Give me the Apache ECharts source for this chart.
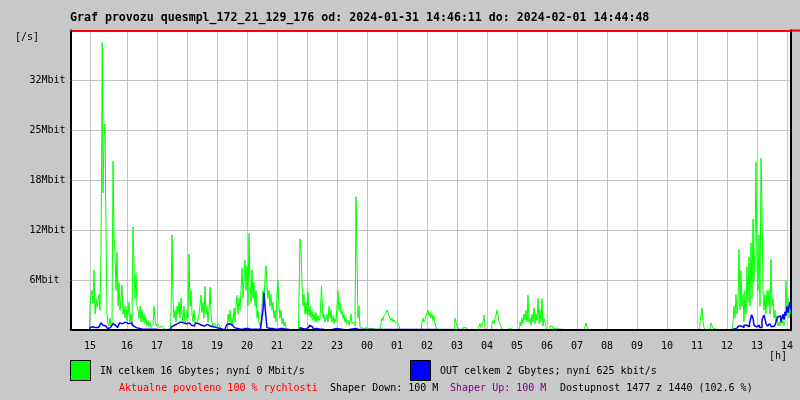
<!DOCTYPE html>
<html><head><meta charset="utf-8">
<script src="https://cdn.jsdelivr.net/npm/echarts@6/dist/echarts.min.js"></script>
<style>html,body{margin:0;padding:0;background:#c8c8c8}#c{width:800px;height:400px}</style>
</head><body><div id="c"></div>
<script>
const titleText = 'Graf provozu quesmpl_172_21_129_176 od: 2024-01-31 14:46:11 do: 2024-02-01 14:44:48';
// x: minutes since 2024-01-31 14:00
const hourTickMinutes = [46,120,180,240,300,360,420,480,540,600,660,720,780,840,900,960,1020,1080,1140,1200,1260,1320,1380,1440];
const hourLabels = ['15','16','17','18','19','20','21','22','23','00','01','02','03','04','05','06','07','08','09','10','11','12','13','14'];
const yStep = 6.3; // Mbit per grid line
const yTickLabels = ['', '6Mbit', '12Mbit', '18Mbit', '25Mbit', '32Mbit', ''];
// [minute, Mbit/s]
const inTraffic = [
[45,0.3],[47,3.0],[49,4.4],[51,5.0],[53,3.4],[55,7.6],[57,2.0],[59,4.0],[61,2.8],[63,3.0],[65,4.5],[67,2.5],[69,10.1],[70,24.3],[71,36.3],[73,17.3],[75,24.3],[77,26.0],[79,12.6],[81,2.0],[83,0.8],[85,0.5],[87,1.5],[89,0.5],[91,0.8],
[93,21.3],[95,12.0],[97,9.8],[99,5.0],[101,9.8],[103,3.0],[105,6.0],[107,2.5],[109,4.0],[111,5.7],[113,2.0],[115,3.0],[117,1.5],[119,3.0],[121,1.2],[123,2.0],[125,3.5],[127,1.0],[129,2.0],[131,0.5],
[133,13.0],[135,8.0],[137,4.0],[139,7.0],[141,3.0],[143,2.5],[145,1.5],[147,3.0],[149,1.0],[151,2.5],[153,1.0],[155,2.0],[157,0.8],[159,1.5],[161,0.5],[163,1.2],[165,0.5],[167,1.0],[169,0.3],[171,0.2],[173,0.6],[175,3.0],[177,1.5],[179,0.5],[183,0.8],[187,0.3],[191,0.5],[195,0.2],[197,0],[207,0],
[209,2.1],[211,12.0],[213,4.0],[215,1.5],[217,2.5],[219,1.0],[221,3.0],[223,2.0],[225,3.5],[227,1.5],[229,4.0],[231,2.0],[233,1.0],[235,3.0],[237,0.8],[239,1.2],[241,2.5],[243,1.5],[245,9.6],[247,3.0],[249,5.0],[251,2.0],[253,1.0],[255,2.5],[257,0.8],[259,0.9],[263,0.7],
[267,2.5],[269,4.4],[271,2.2],[273,3.5],[275,1.5],[277,5.5],[279,2.0],[281,3.0],[283,1.0],[285,2.5],[287,5.4],[289,2.0],[291,1.0],[293,0.5],[297,0.9],[301,0.4],[305,0.8],[309,0.3],[311,0],[321,0],
[323,2.0],[325,1.0],[327,2.5],[329,0.8],[331,1.5],[333,0.7],[335,2.8],[337,1.0],[339,3.0],[341,4.4],[343,2.0],[345,4.0],[347,2.5],[349,5.0],[351,7.8],[353,4.0],[355,6.3],[357,8.8],[359,5.0],[361,8.1],[363,3.0],[365,12.2],[367,6.0],[369,3.5],[371,7.6],[373,4.0],[375,6.0],[377,3.0],[379,5.0],[381,1.5],[383,2.5],[385,0.9],[387,0.5],[389,1.0],
[391,3.0],[393,5.0],[395,3.5],[397,6.5],[399,8.1],[401,5.5],[403,4.0],[405,5.0],[407,3.0],[409,4.5],[411,2.5],[413,3.5],[415,1.5],[417,2.5],[419,1.0],[421,4.5],[423,6.3],[425,3.0],[427,1.5],[429,2.5],[431,0.8],[433,1.5],[435,0.5],[437,1.0],[439,0.3],[441,0.2],[443,0],[463,0],
[465,4.0],[467,11.5],[469,10.0],[471,6.0],[473,3.0],[475,4.5],[477,2.0],[479,3.5],[481,2.0],[483,4.8],[485,1.8],[487,3.0],[489,1.5],[491,2.5],[493,1.2],[495,2.0],[497,1.0],[499,2.2],[501,1.0],[503,1.8],[505,1.2],[507,1.5],
[511,5.5],[513,1.5],[515,2.0],[517,1.0],[519,1.5],[521,2.0],[523,1.0],[525,3.0],[527,1.5],[529,2.5],[531,1.0],[533,1.8],[535,0.8],[537,1.5],[539,1.0],[541,3.0],[543,4.9],[545,2.5],[547,3.5],[549,2.0],[551,2.5],[553,1.5],[555,2.0],[557,1.0],[559,1.5],[561,0.8],[563,1.2],[565,0.6],[567,1.0],[569,2.0],[571,0.8],[573,0.6],[575,1.0],[577,0.5],
[579,16.8],[581,9.0],[583,1.5],[585,3.0],[587,0.3],[589,0.4],[591,0.2],[597,0.3],[601,0],[605,0.2],[607,0],[611,0.2],[613,0],[627,0],
[629,1.0],[631,1.5],[633,1.2],[635,1.8],[637,2.0],[639,2.1],[641,2.5],[643,2.2],[645,1.8],[647,2.0],[649,1.2],[651,1.5],[653,1.0],[655,1.3],[657,1.0],[659,1.2],[661,0.8],[663,1.0],[665,0.5],[667,0],[709,0],
[711,1.0],[713,1.5],[715,1.0],[717,1.3],[719,1.8],[721,2.0],[723,2.5],[725,1.8],[727,2.2],[729,1.5],[731,2.0],[733,1.2],[735,1.8],[737,0.8],[739,0.4],[741,0],[775,0],
[777,1.5],[779,1.0],[781,0.5],[783,0.3],[785,0],[799,0.3],[801,0],[823,0],[825,0.5],[827,0.8],[829,0.3],[831,0.5],[833,1.0],[835,1.9],[837,0.3],[839,0],[849,0],
[851,0.8],[853,1.2],[855,0.8],[857,1.5],[859,1.8],[861,2.5],[863,2.0],[865,1.0],[867,1.2],[869,0.5],[871,0],[885,0.2],[887,0],[905,0],
[907,1.0],[909,0.5],[911,1.5],[913,0.8],[915,2.0],[917,1.2],[919,2.5],[921,1.0],[923,4.4],[925,1.0],[927,1.5],[929,0.6],[931,2.0],[933,1.0],[935,2.8],[937,0.8],[939,2.0],[941,1.2],[943,4.0],[945,0.8],[947,2.5],[949,1.0],[951,4.0],[953,0.5],[955,1.5],[957,1.0],[959,0.3],[963,0],
[969,0.5],[971,0.5],[973,0.2],[975,0],[1035,0],[1037,0.5],[1039,0.9],[1041,0.4],[1043,0],[1265,0],
[1267,1.0],[1269,2.0],[1271,2.8],[1273,1.0],[1275,0.3],[1277,0],[1287,0],[1289,0.9],[1291,0.5],[1293,0.2],[1295,0.3],[1297,0.1],[1301,0],[1331,0],
[1333,1.0],[1335,3.0],[1337,1.5],[1339,4.5],[1341,2.0],[1343,3.5],[1345,10.2],[1347,2.5],[1349,7.5],[1351,3.0],[1353,4.5],[1355,1.0],[1357,5.0],[1359,2.0],[1361,8.0],[1363,3.5],[1365,9.2],[1367,3.0],[1369,11.0],[1371,4.0],[1373,14.0],[1375,6.0],[1377,10.5],[1379,21.2],[1381,8.0],[1383,5.0],[1385,12.0],[1387,3.0],[1389,21.7],[1391,15.0],[1393,5.0],[1395,2.5],[1397,4.5],[1399,2.0],[1401,5.0],[1403,3.0],[1405,5.0],[1407,2.0],[1409,8.9],[1411,3.0],[1413,4.0],[1415,1.5],[1417,2.5],[1419,1.0],[1421,1.8],[1423,0.5],[1425,1.0],[1427,0.5],[1429,1.5],[1431,0.8],[1433,1.2],[1435,0.5],[1437,1.0],
[1439,6.2],[1441,3.0],[1443,4.0],[1445,1.5],[1447,3.0],[1449,2.0],[1451,5.5],[1453,2.5],[1455,5.0],[1457,3.0],[1459,5.0],[1461,4.0],[1463,3.5],[1465,4.5],[1467,3.0]
];
const outTraffic = [
[45,0],[47,0.3],[51,0.4],[55,0.3],[59,0.2],[63,0.3],[67,0.5],[69,0.9],[71,1.0],[73,0.6],[75,0.8],[77,0.5],[79,0.3],[83,0.2],[87,0.3],[91,0.5],[93,0.8],[95,0.6],[99,0.4],[103,0.3],[107,0.9],[111,0.8],[115,1.0],[119,0.9],[123,0.8],[127,0.9],[131,0.7],[135,0.5],[139,0.3],[143,0.2],[147,0.2],[151,0.1],[167,0.1],[187,0],
[207,0.1],[211,0.4],[215,0.6],[219,0.8],[223,0.9],[227,1.0],[231,0.9],[235,1.0],[239,0.8],[243,0.9],[247,0.7],[251,0.6],[255,0.5],[259,0.9],[263,0.8],[267,0.6],[271,0.8],[275,0.5],[279,0.7],[283,0.6],[287,0.5],[291,0.4],[295,0.6],[299,0.3],[303,0.2],[311,0],[319,0],
[321,0.7],[325,0.8],[329,0.6],[333,0.7],[337,0.3],[341,0.2],[347,0.1],[357,0.2],[367,0.1],[377,0.1],[387,0.1],[391,0.3],[393,2.5],[395,4.7],[397,3.0],[399,1.5],[401,0.3],[407,0.2],[417,0.1],[427,0.2],[437,0.1],[447,0],[465,0],
[467,0.3],[471,0.2],[477,0.1],[483,0.3],[487,0.6],[491,0.4],[495,0.1],[499,0.2],[507,0.1],[517,0],[533,0.1],[537,0.2],[541,0],[577,0.2],[579,0.3],[581,0.1],[583,0],[1327,0],
[1333,0.1],[1339,0.2],[1347,0.5],[1351,0.3],[1357,0.6],[1363,0.4],[1367,0.8],[1371,1.9],[1373,1.5],[1375,0.6],[1379,0.4],[1383,0.6],[1387,0.3],[1393,1.3],[1395,1.9],[1397,1.9],[1399,0.8],[1403,0.5],[1407,0.8],[1411,0.4],[1415,0.5],[1419,0.8],[1423,1.6],[1427,1.8],[1429,1.0],[1431,1.5],[1433,2.0],[1435,1.3],[1437,2.3],[1439,1.8],[1441,3.0],[1443,2.2],[1445,3.0],[1447,3.5],[1449,2.5],[1451,3.8],[1453,2.5],[1455,3.2],[1457,2.0],[1459,3.0],[1461,2.3],[1463,3.5],[1465,2.8],[1467,2.5]
];
const legendIn = 'IN celkem 16 Gbytes; nyní 0 Mbit/s';
const legendOut = 'OUT celkem 2 Gbytes; nyní 625 kbit/s';
const statusParts = [
  ['Aktualne povoleno 100 % rychlosti', '#ff0000', 119],
  ['Shaper Down: 100 M', '#000000', 330],
  ['Shaper Up: 100 M', '#800080', 450],
  ['Dostupnost 1477 z 1440 (102.6 %)', '#000000', 560]
];

const MONO = '"DejaVu Sans Mono", "Liberation Mono", monospace';
const chart = echarts.init(document.getElementById('c'), null, {renderer: 'canvas'});
const txt = (text, x, y, color, extra) => Object.assign({
  type: 'text', x: x, y: y, silent: true,
  style: {text: text, fill: color || '#000', font: '10px ' + MONO, verticalAlign: 'middle', align: 'left'}
}, extra || {});

chart.setOption({
  animation: false,
  backgroundColor: '#c8c8c8',
  grid: {left: 70.5, right: 9.5, top: 30.5, bottom: 70, show: true, backgroundColor: '#ffffff', borderWidth: 0},
  xAxis: [{
    type: 'value', position: 'bottom', min: 7, max: 1447, z: 5,
    axisLine: {show: true, onZero: false, lineStyle: {color: '#000', width: 2}},
    axisTick: {show: false},
    splitLine: {show: false},
    axisLabel: {customValues: hourTickMinutes, margin: 11, color: '#000', fontFamily: MONO, fontSize: 10,
      formatter: v => hourLabels[hourTickMinutes.indexOf(v)]}
  }, {
    type: 'value', position: 'top', min: 7, max: 1447, z: 0,
    axisLine: {show: true, onZero: false, lineStyle: {color: '#ff0000', width: 2}},
    axisTick: {show: false, customValues: hourTickMinutes},
    axisLabel: {show: false},
    splitLine: {show: true, lineStyle: {color: '#c4c4c4', width: 1}}
  }],
  yAxis: [{
    type: 'value', position: 'left', min: 0, max: yStep * 6, interval: yStep, z: 5,
    axisLine: {show: true, onZero: false, lineStyle: {color: '#000', width: 2}},
    axisTick: {show: true, length: 5, lineStyle: {color: '#c4c4c4'}},
    splitLine: {show: false},
    axisLabel: {align: 'left', margin: 41, color: '#000', fontFamily: MONO, fontSize: 10,
      formatter: v => yTickLabels[Math.round(v / yStep)] || ''}
  }, {
    type: 'value', position: 'right', min: 0, max: yStep * 6, interval: yStep, z: 0,
    axisLine: {show: true, onZero: false, lineStyle: {color: '#000', width: 2}},
    axisTick: {show: false}, axisLabel: {show: false},
    splitLine: {show: true, lineStyle: {color: '#c4c4c4', width: 1}}
  }],
  series: [{
    name: 'IN', type: 'line', xAxisIndex: 0, yAxisIndex: 0, data: inTraffic,
    symbol: 'none', step: 'middle', clip: false, z: 2, silent: true,
    lineStyle: {color: '#00ff00', width: 1}
  }, {
    name: 'OUT', type: 'line', xAxisIndex: 0, yAxisIndex: 0, data: outTraffic,
    symbol: 'none', step: 'middle', clip: false, z: 3, silent: true,
    lineStyle: {color: '#0000ff', width: 1.5}
  }],
  graphic: [
    txt(titleText, 70, 18, '#000', {style: {text: titleText, fill: '#000', font: 'bold 11.6px ' + MONO, verticalAlign: 'middle'}}),
    txt('[/s]', 15, 37),
    txt('[h]', 769, 356),
    {type: 'line', silent: true, shape: {x1: 790, y1: 30.5, x2: 800, y2: 30.5}, style: {stroke: '#ff0000', lineWidth: 2}},
    {type: 'rect', silent: true, shape: {x: 70.5, y: 360.5, width: 20, height: 20}, style: {fill: '#00ff00', stroke: '#000', lineWidth: 1}},
    txt(legendIn, 100, 371),
    {type: 'rect', silent: true, shape: {x: 410.5, y: 360.5, width: 20, height: 20}, style: {fill: '#0000ff', stroke: '#000', lineWidth: 1}},
    txt(legendOut, 440, 371),
    ...statusParts.map(p => txt(p[0], p[2], 388, p[1]))
  ]
});
</script></body></html>
